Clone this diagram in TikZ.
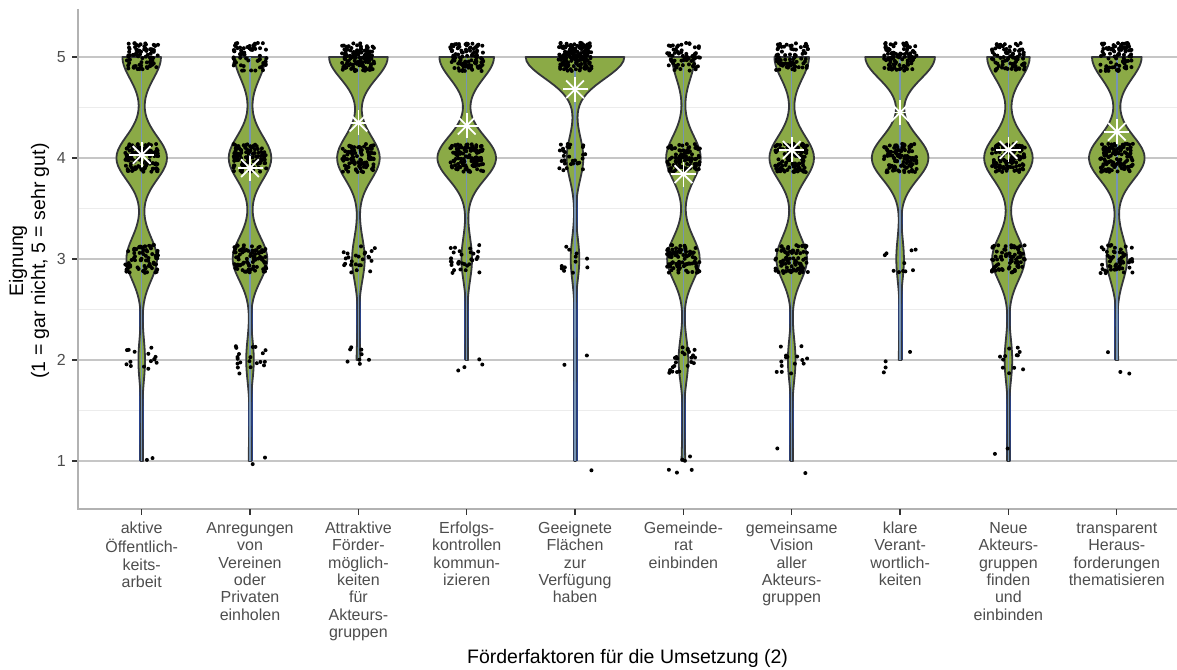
\documentclass[tikz,border=0pt]{standalone}
\usepackage{fontspec}
\setmainfont{Liberation Sans}
\usepackage{tikz}
\definecolor{vfill}{RGB}{139,170,70}
\definecolor{vedge}{RGB}{52,54,58}
\definecolor{vnavy}{RGB}{40,66,140}
\definecolor{vsteel}{RGB}{118,148,180}
\definecolor{gridmaj}{RGB}{198,198,198}
\definecolor{gridmin}{RGB}{236,236,236}
\definecolor{axisgrey}{RGB}{178,178,178}
\definecolor{tickdark}{RGB}{51,51,51}
\definecolor{ticktext}{RGB}{77,77,77}
\tikzstyle{vio} = [fill=vfill, draw=vedge, line width=1.8pt, line join=round]
\tikzstyle{vcore} = [draw=vnavy, line width=5pt]
\tikzstyle{vmid} = [draw=vsteel, line width=1.4pt]
\tikzstyle{jdot} = [fill=black]
\tikzstyle{mstar} = [draw=white, line width=1.8pt]
\tikzstyle{gmajor} = [draw=gridmaj, line width=1.3pt]
\tikzstyle{gminor} = [draw=gridmin, line width=1.1pt]
\tikzstyle{axline} = [draw=axisgrey, line width=1.6pt]
\tikzstyle{tickmark} = [draw=tickdark, line width=1.3pt]
\tikzstyle{ticklab} = [anchor=east, inner sep=0pt, text=ticktext, font=\fontsize{16}{17.4}\selectfont]
\tikzstyle{catlab} = [anchor=north, align=center, inner sep=0pt, text=ticktext, font=\fontsize{16}{17.4}\selectfont]
\tikzstyle{axtitle} = [inner sep=0pt, align=center, font=\fontsize{19.5}{22}\selectfont]

\newcommand{\violin}[7]{%
	\draw [vcore] (#1,{562-101*#7}) -- (#1,57);
	\draw [vio] plot [variable=\t, domain=#7:5, samples=101] ({#1+0.3+#2*g(\t,1)+#3*g(\t,2)+#4*g(\t,3)+#5*g(\t,4)+#6*g(\t,5)},{562-101*\t})
		-- plot [variable=\t, domain=5:#7, samples=101] ({#1-0.3-#2*g(\t,1)-#3*g(\t,2)-#4*g(\t,3)-#5*g(\t,4)-#6*g(\t,5)},{562-101*\t}) -- cycle;
	\draw [vmid] (#1,{562-101*#7}) -- (#1,57);}
\newcommand{\jitterpts}[6]{%
	\foreach \lv/\n in {1/#2,2/#3,3/#4,4/#5,5/#6}{%
		\ifnum\n>0
			\foreach \i in {1,...,\n} {\fill [jdot] ({#1+16.5*rand},{562-101*(\lv+0.14*rand)}) circle (2pt);}
		\fi}}
\newcommand{\meanpt}[2]{%
	\foreach \a in {0,45,90,135} {\draw [mstar] (#1,{562-101*#2}) +(\a:12.5) -- +(\a+180:12.5);}}

\begin{document}
\begin{tikzpicture}[x=1pt, y=-1pt, declare function={g(\p,\q)=exp(max(-15,-(\p-\q)*(\p-\q)/0.09));}]
	\useasboundingbox (0,0) rectangle (1177,669);
	\pgfmathsetseed{4242}
	\foreach \v in {1.5,2.5,3.5,4.5} {\draw [gminor] (78,{562-101*\v}) -- (1177,{562-101*\v});}
	\foreach \v in {1,...,5} {
		\draw [gmajor] (78,{562-101*\v}) -- (1177,{562-101*\v});
		\draw [tickmark] (72,{562-101*\v}) -- (78,{562-101*\v});
		\node (y\v) [ticklab] at (66,{562-101*\v}) {\v};
	}
	\draw [axline] (78,9) -- (78,509) -- (1177,509);
	\foreach \x in {141.7,250.0,358.4,466.7,575.0,683.4,791.7,900.1,1008.4,1116.8} {\draw [tickmark] (\x,509) -- (\x,515);}

	\violin{141.7}{1}{3}{15}{25}{19}{1}
	\violin{250.0}{1}{3.5}{17}{21}{15}{1}
	\violin{358.4}{0}{1.5}{6}{21}{29}{2}
	\violin{466.7}{0}{1}{5}{29}{27}{2}
	\violin{575.0}{0.5}{0.5}{4}{8}{49}{1}
	\violin{683.4}{1.5}{4.5}{16}{17}{11}{1}
	\violin{791.7}{1}{3.5}{15}{22}{17}{1}
	\violin{900.1}{0}{1}{3.5}{28}{34.5}{2}
	\violin{1008.4}{1}{3.5}{16}{24}{21}{1}
	\violin{1116.8}{0}{1}{10}{27.5}{24.5}{2}

	\jitterpts{141.7}{2}{15}{75}{120}{80}
	\jitterpts{250.0}{2}{20}{85}{110}{60}
	\jitterpts{358.4}{0}{8}{25}{100}{120}
	\jitterpts{466.7}{0}{4}{30}{110}{95}
	\jitterpts{575.0}{1}{2}{12}{30}{180}
	\jitterpts{683.4}{6}{25}{90}{95}{65}
	\jitterpts{791.7}{2}{15}{85}{115}{75}
	\jitterpts{900.1}{0}{4}{10}{105}{100}
	\jitterpts{1008.4}{2}{12}{75}{110}{80}
	\jitterpts{1116.8}{0}{3}{55}{120}{85}

	\meanpt{141.7}{4.03}
	\meanpt{250.0}{3.90}
	\meanpt{358.4}{4.35}
	\meanpt{466.7}{4.32}
	\meanpt{575.0}{4.68}
	\meanpt{683.4}{3.84}
	\meanpt{791.7}{4.08}
	\meanpt{900.1}{4.45}
	\meanpt{1008.4}{4.08}
	\meanpt{1116.8}{4.26}

	\node (c1) [catlab] at (141.7,521) {\strut aktive\\Öffentlich-\\keits-\\arbeit};
	\node (c2) [catlab] at (250.0,521) {\strut Anregungen\\von\\Vereinen\\oder\\Privaten\\einholen};
	\node (c3) [catlab] at (358.4,521) {\strut Attraktive\\Förder-\\möglich-\\keiten\\für\\Akteurs-\\gruppen};
	\node (c4) [catlab] at (466.7,521) {\strut Erfolgs-\\kontrollen\\kommun-\\izieren};
	\node (c5) [catlab] at (575.0,521) {\strut Geeignete\\Flächen\\zur\\Verfügung\\haben};
	\node (c6) [catlab] at (683.4,521) {\strut Gemeinde-\\rat\\einbinden};
	\node (c7) [catlab] at (791.7,521) {\strut gemeinsame\\Vision\\aller\\Akteurs-\\gruppen};
	\node (c8) [catlab] at (900.1,521) {\strut klare\\Verant-\\wortlich-\\keiten};
	\node (c9) [catlab] at (1008.4,521) {\strut Neue\\Akteurs-\\gruppen\\finden\\und\\einbinden};
	\node (c10) [catlab] at (1116.8,521) {\strut transparent\\Heraus-\\forderungen\\thematisieren};

	\node (xtitle) [axtitle] at (627.5,658) {Förderfaktoren für die Umsetzung (2)};
	\node (ytitle) [axtitle, rotate=90] at (29,261) {Eignung\\(1 = gar nicht, 5 = sehr gut)};
\end{tikzpicture}
\end{document}
